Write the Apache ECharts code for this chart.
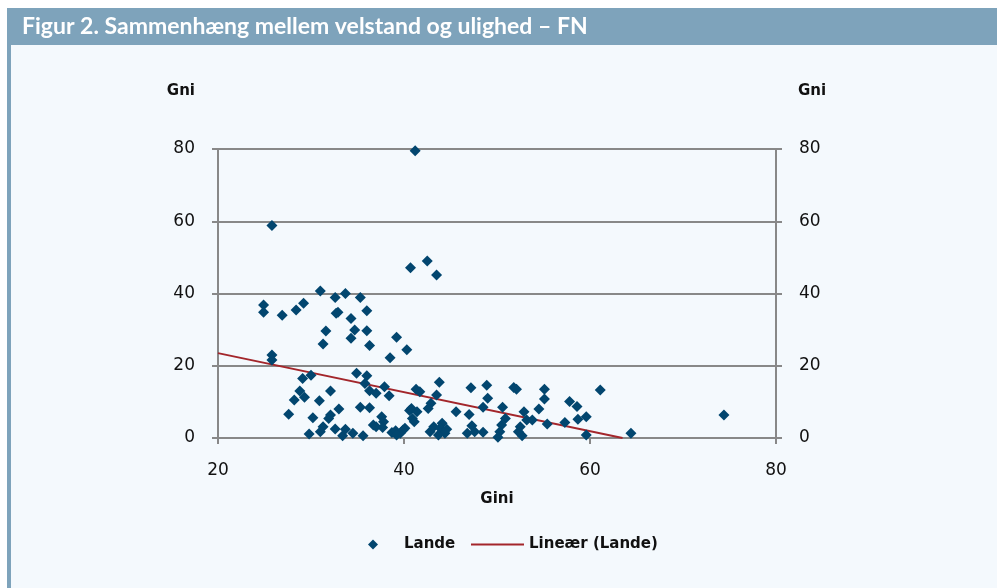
<!DOCTYPE html>
<html>
<head>
<meta charset="utf-8">
<script src="https://cdn.jsdelivr.net/npm/echarts@6/dist/echarts.min.js"></script>
<style>
  html, body { margin: 0; padding: 0; background: #fff; }
  #chart { width: 997px; height: 588px; }
</style>
</head>
<body>
<div id="chart"></div>
<script>
// Gini (x) og Gni (y) pr. land
const giniValues = [
  41.2, 25.8, 40.7, 42.5, 43.5, 31.0, 24.9, 24.9, 26.9, 28.4,
  29.2, 32.6, 33.7, 35.3, 32.9, 32.7, 34.3, 36.0, 31.6, 34.7,
  36.0, 34.3, 31.3, 36.3, 39.2, 40.3, 38.5, 25.8, 25.8, 29.1,
  30.0, 34.9, 36.0, 35.8, 36.3, 37.0, 37.9, 38.4, 28.8, 29.3,
  28.2, 27.6, 30.9, 32.1, 33.0, 35.3, 36.3, 30.2, 31.9, 32.1,
  31.3, 31.0, 29.8, 32.6, 33.4, 33.7, 34.5, 35.6, 36.7, 37.6,
  37.8, 37.7, 37.0, 38.7, 39.1, 39.6, 39.9, 39.2, 40.6, 41.3,
  41.7, 43.8, 43.5, 42.9, 42.6, 40.8, 41.4, 40.9, 41.1, 40.1,
  42.8, 43.2, 44.1, 43.9, 44.4, 43.7, 44.6, 45.6, 47.0, 47.2,
  48.9, 49.0, 48.5, 47.3, 46.8, 47.6, 48.5, 50.6, 50.9, 50.5,
  50.3, 50.1, 51.8, 52.1, 52.9, 53.2, 52.5, 52.7, 52.3, 53.8,
  54.5, 55.1, 55.1, 55.4, 57.3, 57.8, 58.6, 58.7, 59.6, 59.6,
  61.1, 64.4, 74.4
]
const gniValues = [
  79.5, 58.8, 47.1, 49.0, 45.1, 40.7, 36.8, 34.8, 34.0, 35.4,
  37.3, 38.9, 40.0, 38.9, 34.8, 34.5, 33.1, 35.2, 29.6, 29.9,
  29.7, 27.6, 26.0, 25.6, 27.9, 24.4, 22.2, 23.0, 21.6, 16.5,
  17.4, 17.9, 17.2, 15.1, 13.1, 12.4, 14.2, 11.7, 13.0, 11.3,
  10.5, 6.6, 10.3, 13.0, 8.0, 8.5, 8.4, 5.6, 5.4, 6.4,
  3.1, 1.7, 1.1, 2.5, 0.6, 2.4, 1.3, 0.6, 3.6, 5.9,
  4.5, 2.9, 3.1, 1.5, 2.0, 1.3, 2.2, 0.8, 7.6, 13.5,
  12.8, 15.4, 11.9, 9.6, 8.2, 8.2, 7.3, 5.4, 4.5, 2.7,
  1.7, 3.1, 4.1, 2.7, 1.3, 0.8, 2.4, 7.3, 6.5, 13.9,
  14.6, 11.0, 8.5, 3.4, 1.3, 1.7, 1.6, 8.5, 5.4, 3.6,
  1.7, 0.2, 14.0, 13.5, 7.3, 5.0, 3.1, 0.6, 1.7, 5.0,
  8.0, 13.5, 10.8, 3.9, 4.3, 10.1, 8.7, 5.2, 5.9, 0.8,
  13.3, 1.3, 6.4
]
// lineær tendenslinje (endepunkter)
const trendX = [20, 63.5]
const trendY = [23.5, 0]

const xTicks = [20, 40, 60, 80]
const yTicks = [0, 20, 40, 60, 80]

const gridColor = '#888888'
const labelFont = 'DejaVu Sans'

const chart = echarts.init(document.getElementById('chart'), null, { renderer: 'canvas' })

const scatterData = giniValues.map((g, i) => [g, gniValues[i]])
const trendData = trendX.map((x, i) => [x, trendY[i]])

const yAxisBase = {
  type: 'value',
  min: yTicks[0],
  max: yTicks[yTicks.length - 1],
  interval: 20,
  name: 'Gni',
  nameLocation: 'end',
  nameGap: 50,
  axisLine: { show: true, lineStyle: { color: gridColor, width: 2 } },
  axisTick: { show: true, length: 6, lineStyle: { color: gridColor, width: 2 } },
  axisLabel: { color: '#111', fontFamily: labelFont, fontSize: 17, margin: 23 }
}

const option = {
  animation: false,
  backgroundColor: 'transparent',
  graphic: [
    { type: 'rect', z: -10, shape: { x: 11, y: 45, width: 986, height: 543 }, style: { fill: '#f4f9fd' } },
    { type: 'rect', z: -10, shape: { x: 7, y: 8, width: 990, height: 37 }, style: { fill: '#7ea3bb' } },
    { type: 'rect', z: -10, shape: { x: 7, y: 8, width: 4, height: 580 }, style: { fill: '#7ea3bb' } },
    {
      type: 'text', left: 22, top: 15,
      style: {
        text: 'Figur 2. Sammenhæng mellem velstand og ulighed – FN',
        fill: '#fff', font: 'bold 23px Lato'
      }
    }
  ],
  grid: { left: 218, right: 221, top: 149, bottom: 150 },
  legend: [
    {
      left: 363, top: 532,
      icon: 'diamond', itemWidth: 10, itemHeight: 10,
      data: ['Lande'],
      textStyle: { fontFamily: labelFont, fontWeight: 'bold', fontSize: 15, color: '#111', padding: [0, 0, 0, 21] }
    },
    {
      left: 466, top: 532,
      icon: 'rect', itemWidth: 53, itemHeight: 2,
      data: ['Lineær (Lande)'],
      textStyle: { fontFamily: labelFont, fontWeight: 'bold', fontSize: 15, color: '#111' }
    }
  ],
  xAxis: {
    type: 'value',
    min: xTicks[0],
    max: xTicks[xTicks.length - 1],
    interval: 20,
    name: 'Gini',
    nameLocation: 'middle',
    nameGap: 54,
    nameTextStyle: { fontFamily: labelFont, fontWeight: 'bold', fontSize: 15, color: '#111' },
    axisLine: { show: true, lineStyle: { color: gridColor, width: 2 } },
    axisTick: { show: true, length: 6, lineStyle: { color: gridColor, width: 2 } },
    axisLabel: { color: '#111', fontFamily: labelFont, fontSize: 17, margin: 24 },
    splitLine: { show: false }
  },
  yAxis: [
    Object.assign({}, yAxisBase, {
      position: 'left',
      nameTextStyle: { fontFamily: labelFont, fontWeight: 'bold', fontSize: 15, color: '#111', align: 'right', padding: [0, 23, 0, 0] },
      splitLine: { show: true, lineStyle: { color: gridColor, width: 2 } }
    }),
    Object.assign({}, yAxisBase, {
      position: 'right',
      nameTextStyle: { fontFamily: labelFont, fontWeight: 'bold', fontSize: 15, color: '#111', align: 'left', padding: [0, 0, 0, 22] },
      splitLine: { show: false }
    })
  ],
  series: [
    {
      name: 'Lande',
      type: 'scatter',
      symbol: 'diamond',
      symbolSize: 11,
      itemStyle: { color: '#02466f', opacity: 1 },
      data: scatterData,
      z: 3
    },
    {
      name: 'Lineær (Lande)',
      type: 'line',
      showSymbol: false,
      symbol: 'none',
      lineStyle: { color: '#a3262b', width: 2 },
      itemStyle: { color: '#a3262b' },
      data: trendData,
      z: 2
    }
  ]
}

chart.setOption(option)
</script>
</body>
</html>
